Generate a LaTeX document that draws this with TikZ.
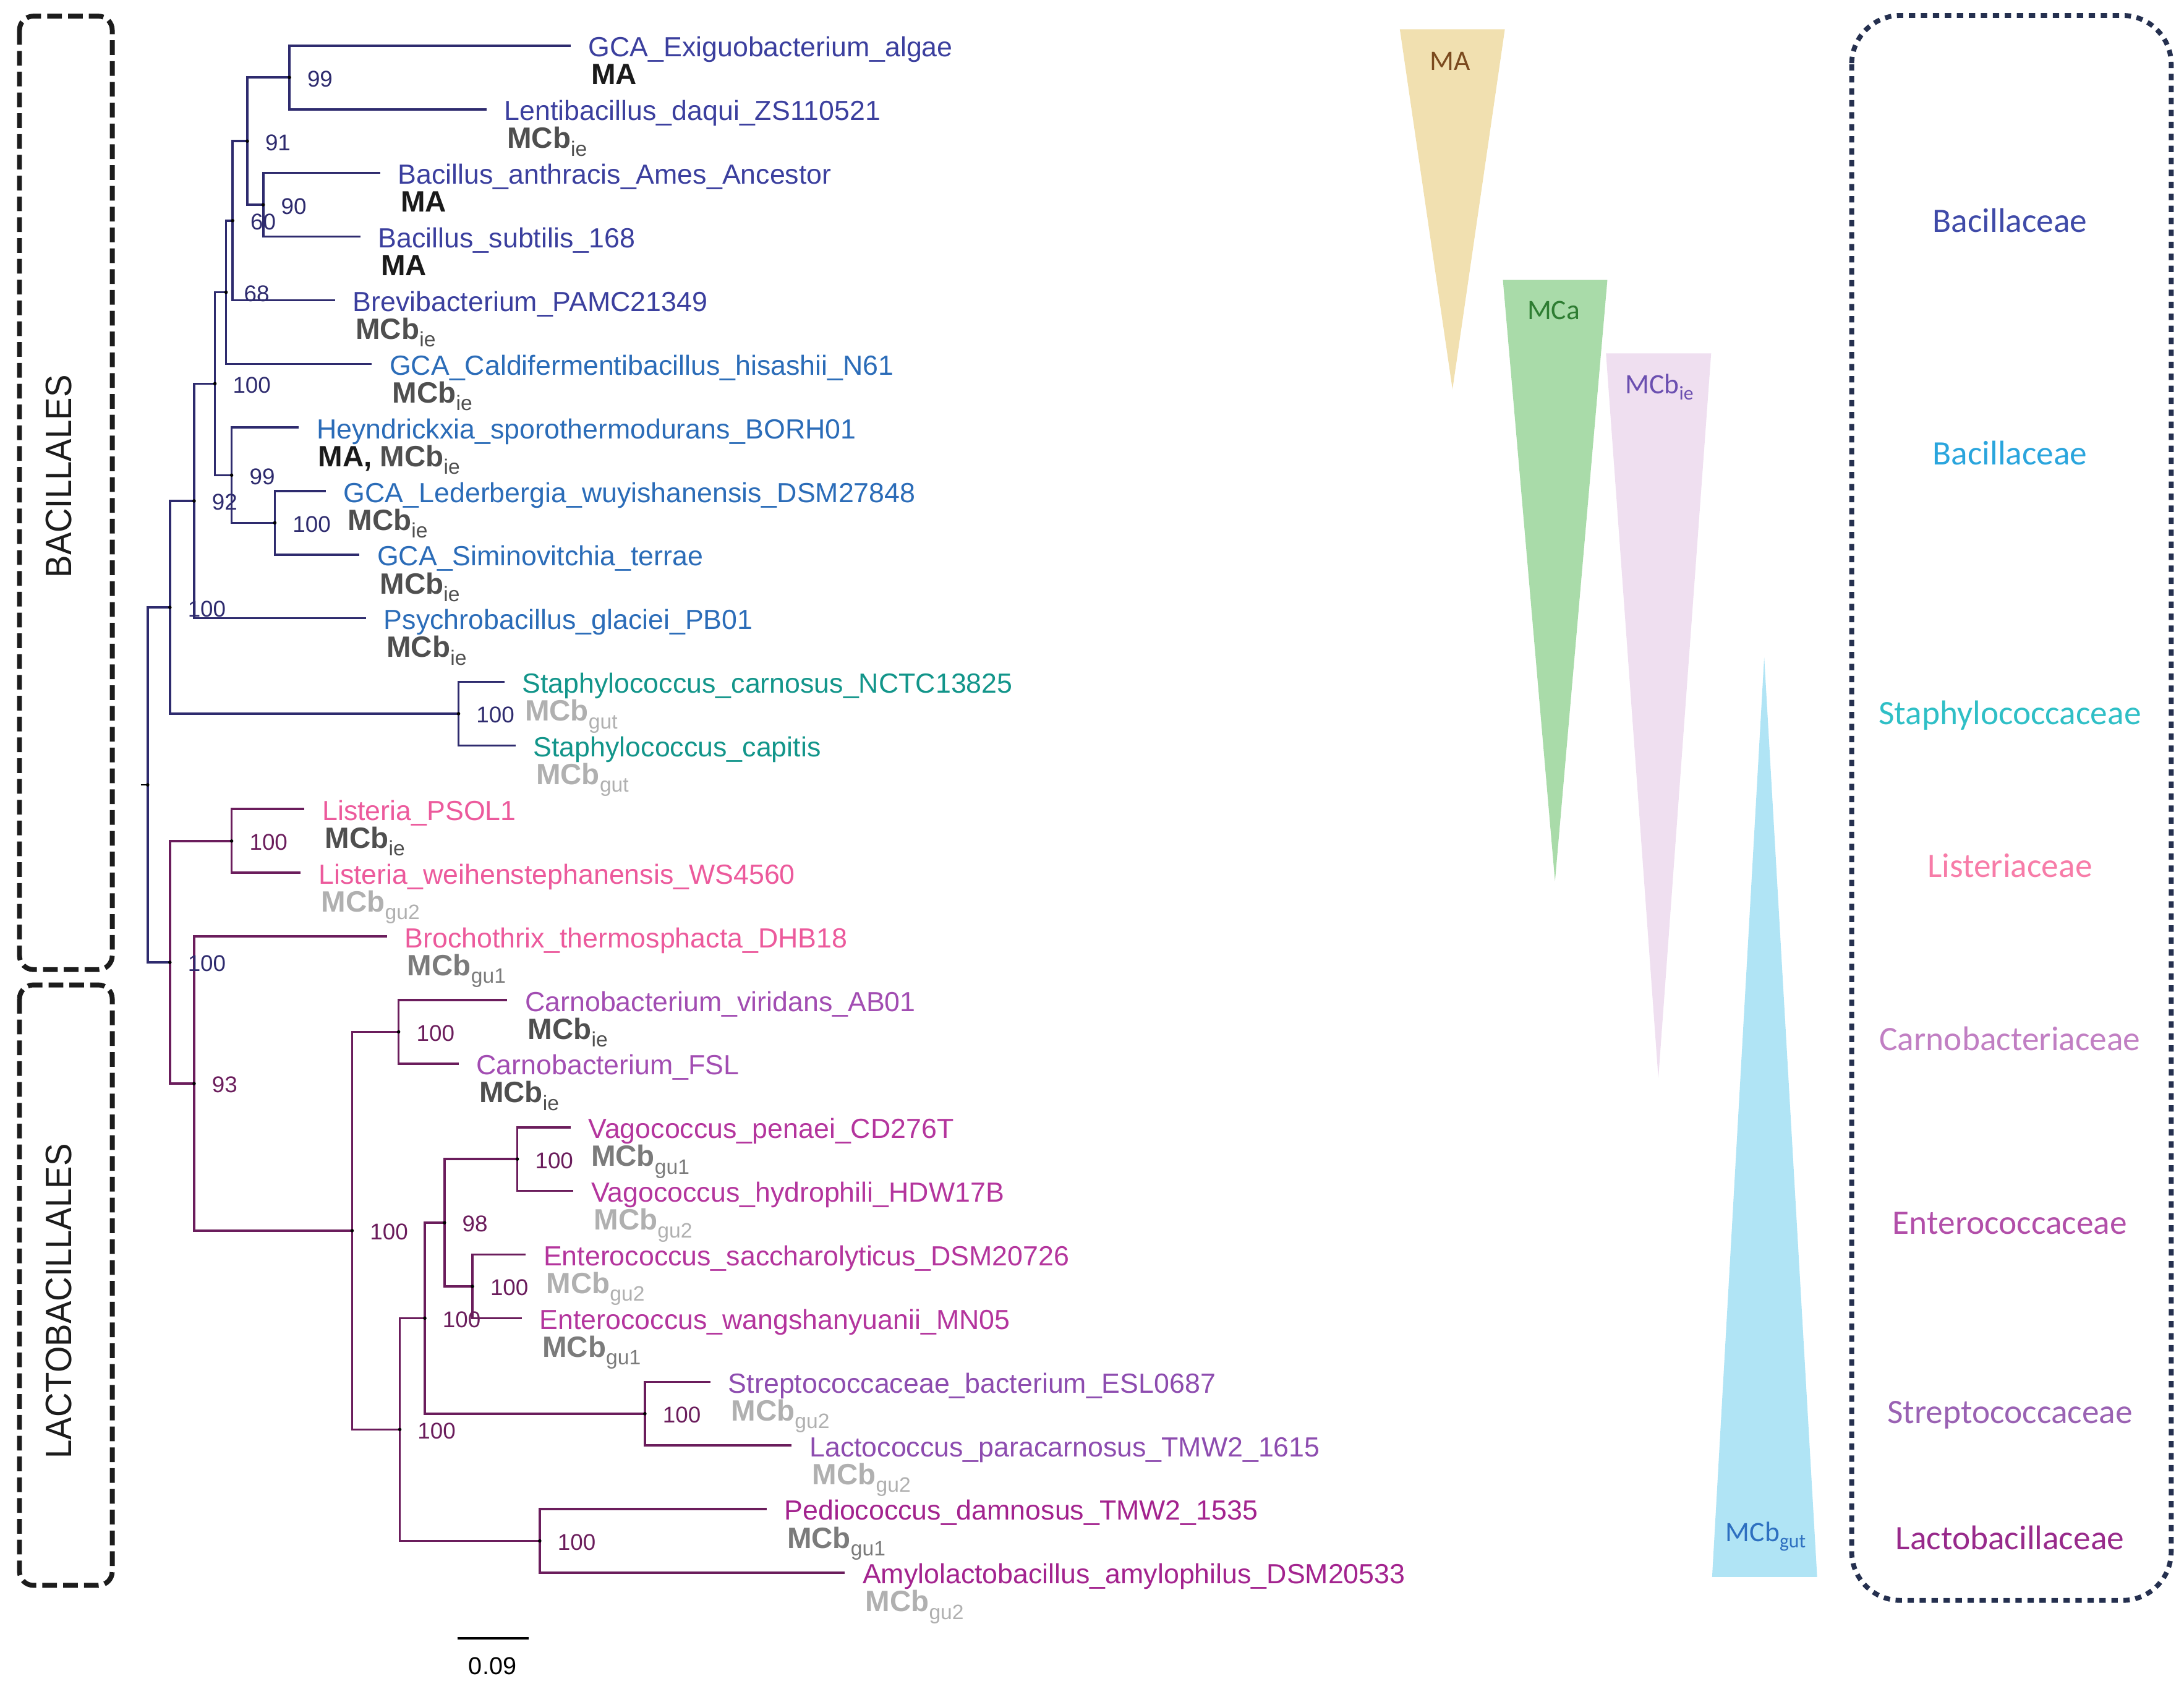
\documentclass[tikz,border=0pt]{standalone}
\usepackage{fontspec}
\setmainfont{Liberation Sans}
\newfontfamily\calib{Carlito}
\usepackage{graphicx}
\usetikzlibrary{calc}
\definecolor{navy}{HTML}{2E2B6E}
\definecolor{plum}{HTML}{6B1D5C}
\definecolor{cBac}{HTML}{3B3F9E}
\definecolor{cBacB}{HTML}{2B6CB8}
\definecolor{cStaph}{HTML}{12958A}
\definecolor{cList}{HTML}{EC5A9C}
\definecolor{cCarno}{HTML}{A24DB2}
\definecolor{cEnt}{HTML}{B4359D}
\definecolor{cStrep}{HTML}{8D4CAF}
\definecolor{cLacto}{HTML}{A3238E}
\definecolor{aMA}{HTML}{1A1A1A}
\definecolor{aIE}{HTML}{4F4F4F}
\definecolor{aGut}{HTML}{B0B0B0}
\definecolor{aGuA}{HTML}{7B7B7B}
\definecolor{fBac}{HTML}{3F4AA8}
\definecolor{fBacB}{HTML}{2AA5DD}
\definecolor{fStaph}{HTML}{2FBFC6}
\definecolor{fList}{HTML}{F77CA8}
\definecolor{fCarno}{HTML}{C17FC3}
\definecolor{fEnt}{HTML}{B24FA9}
\definecolor{fStrep}{HTML}{9A62B3}
\definecolor{fLacto}{HTML}{982A8B}
\definecolor{tMA}{HTML}{F1E0B0}
\definecolor{tMCa}{HTML}{A9DBA9}
\definecolor{tIE}{HTML}{EFDFF0}
\definecolor{tGut}{HTML}{B0E4F5}
\definecolor{lMA}{HTML}{7B4A1E}
\definecolor{lMCa}{HTML}{2E7D32}
\definecolor{lIE}{HTML}{6B4FB0}
\definecolor{lGut}{HTML}{2D6FC0}
\definecolor{boxR}{HTML}{25304F}
\definecolor{boxL}{HTML}{1C1C1C}
\newcommand{\mysub}[1]{\raisebox{-0.26em}{\fontsize{8.5}{9}\selectfont\mdseries #1}}
\newcommand{\trisub}[1]{\raisebox{-0.22em}{\fontsize{8}{9}\selectfont #1}}
\begin{document}
\begin{tikzpicture}[x=0.02cm,y=-0.02cm,
  br/.style={line width=0.9pt},
  nv/.style={br,draw=navy},
  pl/.style={br,draw=plum},
  leaf/.style={anchor=base west,inner sep=0pt,font=\fontsize{11.3}{13}\selectfont},
  ann/.style={anchor=base west,inner sep=0pt,font=\fontsize{12}{14}\selectfont\bfseries},
  bs/.style={anchor=west,inner sep=0pt,font=\fontsize{9.3}{11}\selectfont},
  fam/.style={anchor=base,inner sep=0pt,font=\calib\fontsize{14}{16}\selectfont},
  tril/.style={anchor=base,inner sep=0pt,font=\calib\fontsize{11.5}{13}\selectfont},
  ordl/.style={rotate=90,inner sep=0pt,text=boxL,font=\fontsize{15}{17}\selectfont},
  lbox/.style={draw=boxL,line width=2pt,dash pattern=on 6pt off 2.5pt,rounded corners=0.2cm},
  rbox/.style={draw=boxR,line width=2pt,dash pattern=on 2.6pt off 2.3pt,rounded corners=0.7cm}
]
\useasboundingbox (0,0) rectangle (1568,1212);

% ---------- left order boxes ----------
\draw[lbox] (14,11.6) rectangle (80.6,696);
\draw[lbox] (14,707) rectangle (80.6,1138);
\node[ordl] (ordA) at (42.2,342) {\scalebox{0.92}[1]{BACILLALES}};
\node[ordl] (ordB) at (42.2,934) {\scalebox{0.92}[1]{LACTOBACILLALES}};

% ---------- leaf tips ----------
\coordinate (l1) at (409.6,32.8);
\coordinate (l2) at (349.3,78.5);
\coordinate (l3) at (272.9,124.1);
\coordinate (l4) at (258.8,169.8);
\coordinate (l5) at (240.6,215.5);
\coordinate (l6) at (266.9,261.2);
\coordinate (l7) at (214.6,306.8);
\coordinate (l8) at (233.9,352.5);
\coordinate (l9) at (258.0,398.2);
\coordinate (l10) at (262.8,443.8);
\coordinate (l11) at (362.1,489.5);
\coordinate (l12) at (370.1,535.2);
\coordinate (l13) at (218.6,580.8);
\coordinate (l14) at (215.9,626.5);
\coordinate (l15) at (277.7,672.2);
\coordinate (l16) at (364.2,717.9);
\coordinate (l17) at (329.2,763.5);
\coordinate (l18) at (409.6,809.2);
\coordinate (l19) at (411.6,854.9);
\coordinate (l20) at (377.4,900.5);
\coordinate (l21) at (374.6,946.2);
\coordinate (l22) at (510.1,991.9);
\coordinate (l23) at (568.4,1037.5);
\coordinate (l24) at (550.3,1083.2);
\coordinate (l25) at (606.5,1128.9);

% ---------- internal nodes ----------
\coordinate (A) at (207.8,55.6);
\coordinate (B) at (189,147.0);
\coordinate (C) at (177.6,101.3);
\coordinate (D) at (167,158.4);
\coordinate (E) at (162.3,209.8);
\coordinate (F) at (197.3,375.3);
\coordinate (G) at (166.3,341.1);
\coordinate (H) at (154.3,275.4);
\coordinate (I) at (139.4,359.6);
\coordinate (J) at (329.2,512.3);
\coordinate (K) at (122,436.0);
\coordinate (L) at (166.3,603.7);
\coordinate (M) at (286.2,740.7);
\coordinate (N) at (371.4,832.0);
\coordinate (O) at (339.2,923.4);
\coordinate (P) at (319.1,877.7);
\coordinate (Q) at (463,1014.8);
\coordinate (R) at (305,946.2);
\coordinate (S) at (387.5,1106.1);
\coordinate (T) at (287,1026.1);
\coordinate (U) at (252.8,883.4);
\coordinate (V) at (139.4,777.8);
\coordinate (W) at (122,690.8);
\coordinate (root) at (106,563.4);
\coordinate (rstem) at (101,563.4);

% ---------- branches ----------
\draw[nv] (A) |- (l1);  \draw[nv] (A) |- (l2);
\draw[nv] (B) |- (l3);  \draw[nv] (B) |- (l4);
\draw[nv] (C) |- (A);   \draw[nv] (C) |- (B);
\draw[nv] (D) |- (C);   \draw[nv] (D) |- (l5);
\draw[nv] (E) |- (D);   \draw[nv] (E) |- (l6);
\draw[nv] (F) |- (l8);  \draw[nv] (F) |- (l9);
\draw[nv] (G) |- (l7);  \draw[nv] (G) |- (F);
\draw[nv] (H) |- (E);   \draw[nv] (H) |- (G);
\draw[nv] (I) |- (H);   \draw[nv] (I) |- (l10);
\draw[nv] (J) |- (l11); \draw[nv] (J) |- (l12);
\draw[nv] (K) |- (I);   \draw[nv] (K) |- (J);
\draw[nv] (root) |- (K); \draw[nv] (root) |- (W);
\draw[pl] (L) |- (l13); \draw[pl] (L) |- (l14);
\draw[pl] (M) |- (l16); \draw[pl] (M) |- (l17);
\draw[pl] (N) |- (l18); \draw[pl] (N) |- (l19);
\draw[pl] (O) |- (l20); \draw[pl] (O) |- (l21);
\draw[pl] (P) |- (N);   \draw[pl] (P) |- (O);
\draw[pl] (Q) |- (l22); \draw[pl] (Q) |- (l23);
\draw[pl] (R) |- (P);   \draw[pl] (R) |- (Q);
\draw[pl] (S) |- (l24); \draw[pl] (S) |- (l25);
\draw[pl] (T) |- (R);   \draw[pl] (T) |- (S);
\draw[pl] (U) |- (M);   \draw[pl] (U) |- (T);
\draw[pl] (V) |- (l15); \draw[pl] (V) |- (U);
\draw[pl] (W) |- (L);   \draw[pl] (W) |- (V);
\draw[black,line width=0.6pt] (rstem) -- (root);
\foreach \n in {A,B,C,D,E,F,G,H,I,J,K,L,M,N,O,P,Q,R,S,T,U,V,W,root}
  \fill[black] (\n) circle (0.7pt);

% ---------- bootstrap values ----------
\node[bs,text=navy] (bA) at ($(A)+(12.5,1)$) {99};
\node[bs,text=navy] (bB) at ($(B)+(12.5,1)$) {90};
\node[bs,text=navy] (bC) at ($(C)+(12.5,1)$) {91};
\node[bs,text=navy] (bD) at ($(D)+(12.5,1)$) {60};
\node[bs,text=navy] (bE) at ($(E)+(12.5,1)$) {68};
\node[bs,text=navy] (bF) at ($(F)+(12.5,1)$) {100};
\node[bs,text=navy] (bG) at ($(G)+(12.5,1)$) {99};
\node[bs,text=navy] (bH) at ($(H)+(12.5,1)$) {100};
\node[bs,text=navy] (bI) at ($(I)+(12.5,1)$) {92};
\node[bs,text=navy] (bJ) at ($(J)+(12.5,1)$) {100};
\node[bs,text=navy] (bK) at ($(K)+(12.5,1)$) {100};
\node[bs,text=navy] (bW) at ($(W)+(12.5,1)$) {100};
\node[bs,text=plum] (bL) at ($(L)+(12.5,1)$) {100};
\node[bs,text=plum] (bM) at ($(M)+(12.5,1)$) {100};
\node[bs,text=plum] (bN) at ($(N)+(12.5,1)$) {100};
\node[bs,text=plum] (bO) at ($(O)+(12.5,1)$) {100};
\node[bs,text=plum] (bP) at ($(P)+(12.5,1)$) {98};
\node[bs,text=plum] (bQ) at ($(Q)+(12.5,1)$) {100};
\node[bs,text=plum] (bR) at ($(R)+(12.5,1)$) {100};
\node[bs,text=plum] (bS) at ($(S)+(12.5,1)$) {100};
\node[bs,text=plum] (bT) at ($(T)+(12.5,1)$) {100};
\node[bs,text=plum] (bU) at ($(U)+(12.5,1)$) {100};
\node[bs,text=plum] (bV) at ($(V)+(12.5,1)$) {93};

% ---------- leaf labels ----------
\node[leaf,text=cBac]   (n1)  at ($(l1)+(12.5,8)$)  {GCA\_Exiguobacterium\_algae};
\node[leaf,text=cBac]   (n2)  at ($(l2)+(12.5,8)$)  {Lentibacillus\_daqui\_ZS110521};
\node[leaf,text=cBac]   (n3)  at ($(l3)+(12.5,8)$)  {Bacillus\_anthracis\_Ames\_Ancestor};
\node[leaf,text=cBac]   (n4)  at ($(l4)+(12.5,8)$)  {Bacillus\_subtilis\_168};
\node[leaf,text=cBac]   (n5)  at ($(l5)+(12.5,8)$)  {Brevibacterium\_PAMC21349};
\node[leaf,text=cBacB]  (n6)  at ($(l6)+(12.5,8)$)  {GCA\_Caldifermentibacillus\_hisashii\_N61};
\node[leaf,text=cBacB]  (n7)  at ($(l7)+(12.5,8)$)  {Heyndrickxia\_sporothermodurans\_BORH01};
\node[leaf,text=cBacB]  (n8)  at ($(l8)+(12.5,8)$)  {GCA\_Lederbergia\_wuyishanensis\_DSM27848};
\node[leaf,text=cBacB]  (n9)  at ($(l9)+(12.5,8)$)  {GCA\_Siminovitchia\_terrae};
\node[leaf,text=cBacB]  (n10) at ($(l10)+(12.5,8)$) {Psychrobacillus\_glaciei\_PB01};
\node[leaf,text=cStaph] (n11) at ($(l11)+(12.5,8)$) {Staphylococcus\_carnosus\_NCTC13825};
\node[leaf,text=cStaph] (n12) at ($(l12)+(12.5,8)$) {Staphylococcus\_capitis};
\node[leaf,text=cList]  (n13) at ($(l13)+(12.5,8)$) {Listeria\_PSOL1};
\node[leaf,text=cList]  (n14) at ($(l14)+(12.5,8)$) {Listeria\_weihenstephanensis\_WS4560};
\node[leaf,text=cList]  (n15) at ($(l15)+(12.5,8)$) {Brochothrix\_thermosphacta\_DHB18};
\node[leaf,text=cCarno] (n16) at ($(l16)+(12.5,8)$) {Carnobacterium\_viridans\_AB01};
\node[leaf,text=cCarno] (n17) at ($(l17)+(12.5,8)$) {Carnobacterium\_FSL};
\node[leaf,text=cEnt]   (n18) at ($(l18)+(12.5,8)$) {Vagococcus\_penaei\_CD276T};
\node[leaf,text=cEnt]   (n19) at ($(l19)+(12.5,8)$) {Vagococcus\_hydrophili\_HDW17B};
\node[leaf,text=cEnt]   (n20) at ($(l20)+(12.5,8)$) {Enterococcus\_saccharolyticus\_DSM20726};
\node[leaf,text=cEnt]   (n21) at ($(l21)+(12.5,8)$) {Enterococcus\_wangshanyuanii\_MN05};
\node[leaf,text=cStrep] (n22) at ($(l22)+(12.5,8)$) {Streptococcaceae\_bacterium\_ESL0687};
\node[leaf,text=cStrep] (n23) at ($(l23)+(12.5,8)$) {Lactococcus\_paracarnosus\_TMW2\_1615};
\node[leaf,text=cLacto] (n24) at ($(l24)+(12.5,8)$) {Pediococcus\_damnosus\_TMW2\_1535};
\node[leaf,text=cLacto] (n25) at ($(l25)+(12.5,8)$) {Amylolactobacillus\_amylophilus\_DSM20533};

% ---------- methanogen annotations ----------
\node[ann,text=aMA]  (a1)  at ($(n1.base west)+(2,20)$)  {MA};
\node[ann,text=aIE]  (a2)  at ($(n2.base west)+(2,20)$)  {MCb\mysub{ie}};
\node[ann,text=aMA]  (a3)  at ($(n3.base west)+(2,20)$)  {MA};
\node[ann,text=aMA]  (a4)  at ($(n4.base west)+(2,20)$)  {MA};
\node[ann,text=aIE]  (a5)  at ($(n5.base west)+(2,20)$)  {MCb\mysub{ie}};
\node[ann,text=aIE]  (a6)  at ($(n6.base west)+(2,20)$)  {MCb\mysub{ie}};
\node[ann,text=aMA]  (a7)  at ($(n7.base west)+(1,20)$)  {MA, {\color{aIE}MCb\mysub{ie}}};
\node[ann,text=aIE]  (a8)  at ($(n8.base west)+(3,20)$)  {MCb\mysub{ie}};
\node[ann,text=aIE]  (a9)  at ($(n9.base west)+(2,20)$)  {MCb\mysub{ie}};
\node[ann,text=aIE]  (a10) at ($(n10.base west)+(2,20)$) {MCb\mysub{ie}};
\node[ann,text=aGut] (a11) at ($(n11.base west)+(2,20)$) {MCb\mysub{gut}};
\node[ann,text=aGut] (a12) at ($(n12.base west)+(2,20)$) {MCb\mysub{gut}};
\node[ann,text=aIE]  (a13) at ($(n13.base west)+(2,20)$) {MCb\mysub{ie}};
\node[ann,text=aGut] (a14) at ($(n14.base west)+(2,20)$) {MCb\mysub{gu2}};
\node[ann,text=aGuA] (a15) at ($(n15.base west)+(2,20)$) {MCb\mysub{gu1}};
\node[ann,text=aIE]  (a16) at ($(n16.base west)+(2,20)$) {MCb\mysub{ie}};
\node[ann,text=aIE]  (a17) at ($(n17.base west)+(2,20)$) {MCb\mysub{ie}};
\node[ann,text=aGuA] (a18) at ($(n18.base west)+(2,20)$) {MCb\mysub{gu1}};
\node[ann,text=aGut] (a19) at ($(n19.base west)+(2,20)$) {MCb\mysub{gu2}};
\node[ann,text=aGut] (a20) at ($(n20.base west)+(2,20)$) {MCb\mysub{gu2}};
\node[ann,text=aGuA] (a21) at ($(n21.base west)+(2,20)$) {MCb\mysub{gu1}};
\node[ann,text=aGut] (a22) at ($(n22.base west)+(2,20)$) {MCb\mysub{gu2}};
\node[ann,text=aGut] (a23) at ($(n23.base west)+(2,20)$) {MCb\mysub{gu2}};
\node[ann,text=aGuA] (a24) at ($(n24.base west)+(2,20)$) {MCb\mysub{gu1}};
\node[ann,text=aGut] (a25) at ($(n25.base west)+(2,20)$) {MCb\mysub{gu2}};

% ---------- scale bar ----------
\coordinate (sbA) at (328.4,1176);
\coordinate (sbB) at (379.4,1176);
\draw[black,line width=1.1pt] (sbA) -- (sbB);
\node[anchor=base,inner sep=0pt,font=\fontsize{10}{12}\selectfont] (sbl) at (353.6,1202) {0.09};

% ---------- triangles ----------
\fill[tMA]  (1005,21) -- (1080.4,21) -- (1042.8,279.5) -- cycle;
\fill[tMCa] (1079,201) -- (1154,201) -- (1116.4,632.5) -- cycle;
\fill[tIE]  (1153,253.7) -- (1228.5,253.7) -- (1190.6,774) -- cycle;
\fill[tGut] (1266.6,471.7) -- (1304.6,1132) -- (1229.2,1132) -- cycle;
\node[tril,text=lMA]  (tA) at (1041,50.3) {MA};
\node[tril,text=lMCa] (tB) at (1115.4,229.1) {MCa};
\node[tril,text=lIE]  (tC) at (1191.3,282.6) {MCb\trisub{ie}};
\node[tril,text=lGut] (tD) at (1267.7,1106.5) {MCb\trisub{gut}};

% ---------- family box ----------
\draw[rbox] (1329.4,11.1) rectangle (1558.8,1148.8);
\node[fam,text=fBac]   (f1) at (1443,166.5)  {Bacillaceae};
\node[fam,text=fBacB]  (f2) at (1443,333.5)  {Bacillaceae};
\node[fam,text=fStaph] (f3) at (1443,520)    {Staphylococcaceae};
\node[fam,text=fList]  (f4) at (1443,629.8)  {Listeriaceae};
\node[fam,text=fCarno] (f5) at (1443,754)    {Carnobacteriaceae};
\node[fam,text=fEnt]   (f6) at (1443,886)    {Enterococcaceae};
\node[fam,text=fStrep] (f7) at (1443,1021.7) {Streptococcaceae};
\node[fam,text=fLacto] (f8) at (1443,1112.4) {Lactobacillaceae};
\end{tikzpicture}
\end{document}
